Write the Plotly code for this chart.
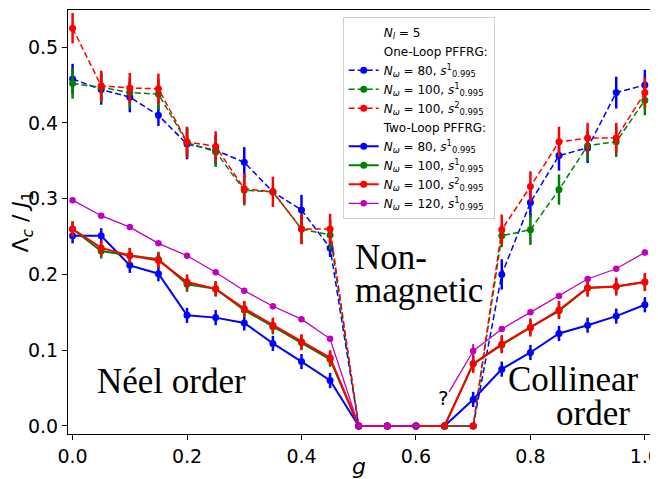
import plotly.graph_objects as go

g = [0.0, 0.05, 0.1, 0.15, 0.2, 0.25, 0.3, 0.35, 0.4, 0.45, 0.5,
     0.55, 0.6, 0.65, 0.7, 0.75, 0.8, 0.85, 0.9, 0.95, 1.0]

# One-loop PFFRG
one_b80 = [0.458, 0.444, 0.434, 0.410, 0.372, 0.364, 0.348, 0.309, 0.285, 0.235, 0.0,
           0.0, 0.0, 0.0, 0.0, 0.200, 0.295, 0.357, 0.367, 0.440, 0.450]
one_b80_err = [0.02, 0.02, 0.02, 0.014, 0.02, 0.02, 0.02, 0.005, 0.02, 0.012, 0.0,
               0.0, 0.0, 0.0, 0.0, 0.02, 0.02, 0.02, 0.02, 0.021, 0.02]
one_g100 = [0.452, 0.447, 0.440, 0.438, 0.374, 0.362, 0.311, 0.309, 0.260, 0.252, 0.0,
            0.0, 0.0, 0.0, 0.0, 0.251, 0.259, 0.312, 0.370, 0.375, 0.430]
one_g100_err = [0.02, 0.02, 0.02, 0.02, 0.02, 0.02, 0.02, 0.005, 0.02, 0.02, 0.0,
                0.0, 0.0, 0.0, 0.0, 0.015, 0.02, 0.02, 0.02, 0.02, 0.02]
one_r100 = [0.525, 0.449, 0.446, 0.445, 0.375, 0.369, 0.313, 0.309, 0.260, 0.260, 0.0,
            0.0, 0.0, 0.0, 0.0, 0.259, 0.316, 0.375, 0.380, 0.380, 0.440]
one_r100_err = [0.02, 0.02, 0.02, 0.02, 0.02, 0.02, 0.02, 0.02, 0.02, 0.02, 0.0,
                0.0, 0.0, 0.0, 0.0, 0.02, 0.02, 0.02, 0.02, 0.02, 0.02]

# Two-loop PFFRG
two_b80 = [0.251, 0.251, 0.212, 0.201, 0.146, 0.143, 0.136, 0.109, 0.085, 0.060, 0.0,
           0.0, 0.0, 0.0, 0.035, 0.075, 0.097, 0.122, 0.133, 0.145, 0.160]
two_b80_err = [0.01] * 10 + [0.0] * 4 + [0.01] * 7
two_g100 = [0.260, 0.231, 0.225, 0.220, 0.187, 0.181, 0.153, 0.131, 0.110, 0.088, 0.0,
            0.0, 0.0, 0.0, 0.082, 0.107, 0.130, 0.152, 0.182, 0.184, 0.190]
two_g100_err = [0.01] * 10 + [0.0] * 4 + [0.01] * 7
two_r100 = [0.260, 0.235, 0.225, 0.2185, 0.190, 0.181, 0.155, 0.133, 0.111, 0.090, 0.0,
            0.0, 0.0, 0.0, 0.082, 0.108, 0.130, 0.153, 0.1825, 0.184, 0.190]
two_r100_err = [0.01] * 10 + [0.0] * 4 + [0.012] * 7
two_m120 = [0.298, 0.2775, 0.2625, 0.241, 0.2247, 0.2028, 0.1785, 0.158, 0.141, 0.115, 0.0,
            0.0, 0.0, None, 0.099, 0.128, 0.150, 0.1715, 0.194, 0.2075, 0.229]
two_m120_err = [0.002] * 10 + [0.0] * 4 + [0.009, 0.003, 0.003, 0.003, 0.003, 0.003, 0.004]
m_hint_x = [0.658, 0.7]
m_hint_y = [0.045, 0.099]

BLUE, GREEN, RED, MAG = "#0000ff", "#008000", "#ff0000", "#bf00bf"

fig = go.Figure()


def header(name):
    fig.add_trace(go.Scatter(x=[None], y=[None], mode="lines", name=name,
                             line=dict(color="rgba(0,0,0,0)", width=1),
                             hoverinfo="skip"))


def series(y, err, color, name, dash, width, msize=7, ewidth=2.5):
    fig.add_trace(go.Scatter(
        x=g, y=y, mode="lines+markers", name=name,
        line=dict(color=color, dash=dash, width=width),
        marker=dict(color=color, size=msize, symbol="circle"),
        error_y=dict(type="data", array=err, visible=True, color=color,
                     thickness=ewidth, width=0),
        connectgaps=False,
    ))


lab = lambda n, s: f"<i>N</i><sub><i>ω</i></sub> = {n}, <i>s</i><sup>{s}</sup><sub>0.995</sub>"
DASH = "6px,3px"

header("<i>N</i><sub><i>l</i></sub> = 5")
header("One-Loop PFFRG:")
series(one_b80, one_b80_err, BLUE, lab(80, 1), DASH, 1.5)
series(one_g100, one_g100_err, GREEN, lab(100, 1), DASH, 1.5)
series(one_r100, one_r100_err, RED, lab(100, 2), DASH, 1.5)
header("Two-Loop PFFRG:")
series(two_b80, two_b80_err, BLUE, lab(80, 1), "solid", 2)
series(two_g100, two_g100_err, GREEN, lab(100, 1), "solid", 2)
series(two_r100, two_r100_err, RED, lab(100, 2), "solid", 2)
series(two_m120, two_m120_err, MAG, lab(120, 1), "solid", 1.3, msize=6.5, ewidth=2)
fig.add_trace(go.Scatter(x=m_hint_x, y=m_hint_y, mode="lines", showlegend=False,
                         line=dict(color=MAG, width=1.3), hoverinfo="skip"))

serif = "Liberation Serif"
ann = [
    dict(text="Néel order", x=0.173, y=0.059, xanchor="center", size=35, fam=serif),
    dict(text="Non-", x=0.49, y=0.223, xanchor="left", size=35, fam=serif),
    dict(text="magnetic", x=0.49, y=0.179, xanchor="left", size=35, fam=serif),
    dict(text="Collinear", x=0.994, y=0.061, xanchor="right", size=35, fam=serif),
    dict(text="order", x=0.977, y=0.017, xanchor="right", size=35, fam=serif),
    dict(text="?", x=0.648, y=0.037, xanchor="center", size=20, fam="DejaVu Sans"),
]
for a in ann:
    fig.add_annotation(x=a["x"], y=a["y"], xref="x", yref="y", text=a["text"],
                       showarrow=False, xanchor=a["xanchor"], yanchor="middle",
                       font=dict(family=a["fam"], size=a["size"], color="black"))

axis_common = dict(showline=True, linecolor="black", linewidth=1.2, mirror=True,
                   ticks="outside", ticklen=5, tickwidth=1.2, tickcolor="black",
                   showgrid=False, zeroline=False, automargin=False,
                   ticklabeloverflow="allow",
                   tickfont=dict(family="DejaVu Sans", size=19, color="black"))

# the page body adds an 8 px offset; the figure is sized so that it fills the window
fig.update_layout(
    template="none",
    width=650, height=471,
    margin=dict(l=60, r=8, t=2, b=45),
    paper_bgcolor="white", plot_bgcolor="white",
    xaxis=dict(range=[-0.008, 1.009], tickvals=[0, 0.2, 0.4, 0.6, 0.8, 1.0],
               ticktext=["0.0", "0.2", "0.4", "0.6", "0.8", "1.0"],
               title=dict(text="<i>g</i>", font=dict(family="DejaVu Sans", size=22, color="black"),
                          standoff=5),
               **axis_common),
    yaxis=dict(range=[-0.0106, 0.549], tickvals=[0, 0.1, 0.2, 0.3, 0.4, 0.5],
               ticktext=["0.0", "0.1", "0.2", "0.3", "0.4", "0.5"],
               title=dict(text="Λ<sub><i>c</i></sub> / <i>J</i><sub>1</sub>",
                          font=dict(family="DejaVu Sans", size=22, color="black"),
                          standoff=6),
               **axis_common),
    legend=dict(x=0.472, y=0.984, xanchor="left", yanchor="top",
                bgcolor="rgba(255,255,255,0.85)", bordercolor="#d0d0d0", borderwidth=1,
                font=dict(family="DejaVu Sans", size=12, color="black"),
                itemwidth=30, tracegroupgap=0),
    showlegend=True,
)

fig.write_html("out.html", config={"displayModeBar": False})
